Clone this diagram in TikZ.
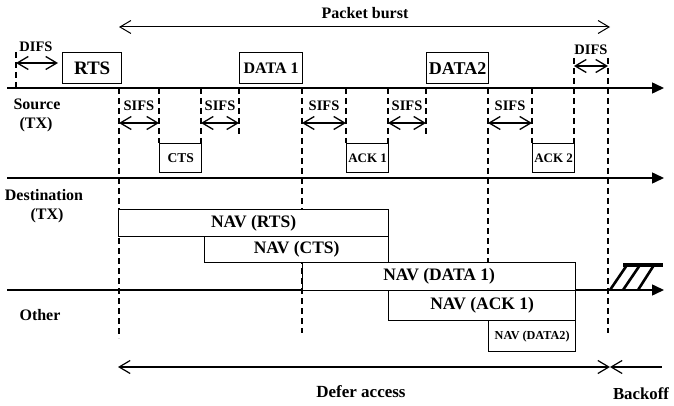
\documentclass[tikz,border=0pt]{standalone}
\usepackage{fontspec}
\setmainfont{Liberation Serif}
\usetikzlibrary{arrows.meta}
\newcommand{\fs}[1]{\fontsize{#1}{#1}\selectfont\bfseries}
\begin{document}
\begin{tikzpicture}[x=1pt,y=-1pt,
  box/.style={draw, line width=1.3pt, inner sep=0pt, anchor=north west},
  axis/.style={line width=1.5pt, -{Triangle[length=12pt,width=11pt]}},
  dim/.style={line width=1.3pt, {Straight Barb[length=11pt,width=13pt]}-{Straight Barb[length=11pt,width=13pt]}},
  lt/.style={{Straight Barb[length=11pt,width=13pt]}-},
  rt/.style={-{Straight Barb[length=11pt,width=13pt]}},
  dsh/.style={line width=1.3pt, dash pattern=on 6pt off 4pt},
  lbl/.style={inner sep=0pt},
]
\fill[white] (0,0) rectangle (674,406);
\useasboundingbox (0,0) rectangle (674,406);

% Packet burst
\node[lbl, font=\fs{16}] (pb) at (365,13) {Packet burst};
\coordinate (pbL) at (119,27);
\coordinate (pbR) at (610,27);
\draw[dim, line width=1pt] (pbL) -- (pbR);

% axes
\coordinate (sA) at (7,88);   \coordinate (sB) at (664,88);
\coordinate (dA) at (7,178);  \coordinate (dB) at (664,178);
\coordinate (oA) at (7,290);  \coordinate (oB) at (664,290);
\draw[axis] (sA) -- (sB);
\draw[axis] (dA) -- (dB);
\draw[axis] (oA) -- (oB);

% row labels
\node[lbl, font=\fs{16}] (src) at (37,104) {Source};
\node[lbl, font=\fs{16}] (srctx) at (36,125) {(TX)};
\node[lbl, font=\fs{16}] (dst) at (44,195) {Destination};
\node[lbl, font=\fs{16}] (dsttx) at (47,216) {(TX)};
\node[lbl, font=\fs{16}] (oth) at (40,315) {Other};

% dashed verticals
\foreach \x/\ya/\yb in {16/52/88, 119/88/338, 159/88/143, 201/88/143, 239/88/136,
  302/88/333, 346/88/143, 388/88/143, 426/88/136, 488/88/262, 532/88/143,
  574/58/143, 608/58/333}{
  \coordinate (v\x a) at (\x,\ya);
  \coordinate (v\x b) at (\x,\yb);
  \draw[dsh] (v\x a) -- (v\x b);
}

% DIFS
\node[lbl, font=\fs{14.5}] (difs1) at (36,47) {DIFS};
\coordinate (d1a) at (16,63); \coordinate (d1b) at (58,63);
\draw[dim] (d1a) -- (d1b);
\node[lbl, font=\fs{14.5}] (difs2) at (591,50) {DIFS};
\coordinate (d2a) at (574,66); \coordinate (d2b) at (608,66);
\draw[dim] (d2a) -- (d2b);

% SIFS
\foreach \a/\b [count=\i] in {119/159, 201/239, 302/346, 388/426, 488/532}{
  \node[lbl, font=\fs{14.5}] (sifs\i) at ({(\a+\b)/2},106) {SIFS};
  \coordinate (sa\i) at (\a,123); \coordinate (sb\i) at (\b,123);
  \draw[dim] (sa\i) -- (sb\i);
}

% frames on source
\node[box, minimum width=59, minimum height=31, font=\fs{19}] (rts) at (62,52) {RTS};
\node[box, minimum width=63, minimum height=31, font=\fs{16}] (data1) at (239,52) {DATA 1};
\node[box, minimum width=62, minimum height=31, font=\fs{18}] (data2) at (426,52) {DATA2};

% frames on destination
\node[box, minimum width=42, minimum height=29, font=\fs{13.5}] (cts) at (159,143) {CTS};
\node[box, minimum width=42, minimum height=29, font=\fs{13}] (ack1) at (346,143) {ACK 1};
\node[box, minimum width=42, minimum height=29, font=\fs{13}] (ack2) at (532,143) {ACK 2};

% NAV boxes
\node[box, fill=white, minimum width=270, minimum height=27, font=\fs{17.5}] (navrts) at (118,209) {NAV (RTS)};
\node[box, fill=white, minimum width=184, minimum height=26, font=\fs{17.5}] (navcts) at (204,236) {NAV (CTS)};
\node[box, fill=white, minimum width=273, minimum height=28, font=\fs{17.5}] (navd1) at (302,262) {NAV (DATA 1)};
\node[box, fill=white, minimum width=187, minimum height=30, font=\fs{17.5}] (nava1) at (388,290) {NAV (ACK 1)};
\node[box, fill=white, minimum width=87, minimum height=31, font=\fs{12.2}] (navd2) at (488,320) {NAV (DATA2)};

% backoff hatch
\coordinate (hb1) at (623,265); \coordinate (hb2) at (663,265);
\draw[line width=4pt] (hb1) -- (hb2);
\foreach \xb/\xt in {610/627, 623/640, 638/654}{
  \coordinate (hl\xb) at (\xb,290); \coordinate (hu\xb) at (\xt,265);
  \draw[line width=2.6pt] (hl\xb) -- (hu\xb);
}

% defer access / backoff
\coordinate (dfA) at (118,367); \coordinate (dfB) at (610,367); \coordinate (bkB) at (662,367);
\draw[dim, line width=1.2pt] (dfA) -- (dfB);
\draw[lt, line width=1.2pt] (dfB) -- (bkB);
\node[lbl, font=\fs{17}] (defer) at (361,392) {Defer access};
\node[lbl, font=\fs{16.8}] (backoff) at (641,394) {Backoff};
\end{tikzpicture}
\end{document}
